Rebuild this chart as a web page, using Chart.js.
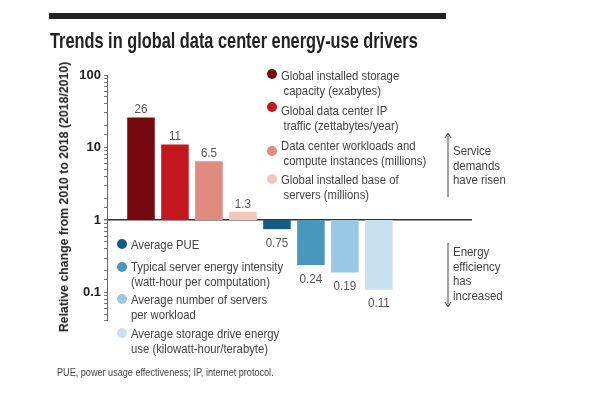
<!DOCTYPE html>
<html>
<head>
<meta charset="utf-8">
<script src="https://cdn.jsdelivr.net/npm/chart.js@4"></script>
<style>
  html, body { margin:0; padding:0; background:#fff; }
  #wrap { position:relative; width:600px; height:400px; overflow:hidden; font-family:"Liberation Sans",Arial,sans-serif; }
  #c { position:absolute; left:0; top:0; }
  .abs { position:absolute; white-space:nowrap; }
  .topbar { left:49px; top:13px; width:397px; height:6px; background:#222; }
  .title { left:50px; top:29px; font-size:21.5px; line-height:24px; font-weight:bold; color:#222; transform:scaleX(0.76); transform-origin:0 0; }
  .leg { font-size:13px; line-height:15px; color:#444; transform:scaleX(0.87); transform-origin:0 0; }
  .dot { position:absolute; border-radius:50%; }
  .note { font-size:13px; line-height:14.5px; color:#444; transform:scaleX(0.88); transform-origin:0 0; }
  .foot { left:57px; top:366px; font-size:10px; line-height:14px; color:#444; transform:scaleX(0.91); transform-origin:0 0; }
  .ytitle { font-size:13.5px; font-weight:bold; color:#222; line-height:16px; width:330px; text-align:center; left:-101px; top:189px; transform:rotate(-90deg) scaleX(0.91); transform-origin:50% 50%; }
</style>
</head>
<body>
<div id="wrap">
  <canvas id="c" width="600" height="400"></canvas>
  <div class="abs topbar"></div>
  <div class="abs title" id="title"></div>
  <div class="abs ytitle" id="ytitle"></div>
  <div id="legends"></div>
  <div class="abs note" style="left:453px; top:144px;">Service<br>demands<br>have risen</div>
  <div class="abs note" style="left:453px; top:245px;">Energy<br>efficiency<br>has<br>increased</div>
  <svg class="abs" style="left:0;top:0;" width="600" height="400">
    <g stroke="#444" stroke-width="1" fill="none">
      <line x1="448" y1="134" x2="448" y2="197"/>
      <polyline points="445,138 448,133 451,138"/>
      <line x1="448" y1="243" x2="448" y2="306"/>
      <polyline points="445,302 448,307 451,302"/>
    </g>
  </svg>
  <div class="abs foot" id="foot"></div>
</div>
<script>
// ---- data ----
const chartTitle = 'Trends in global data center energy-use drivers';
const yAxisTitle = 'Relative change from 2010 to 2018 (2018/2010)';
const footnote = 'PUE, power usage effectiveness; IP, internet protocol.';
const categories = [
  'Global installed storage\ncapacity (exabytes)',
  'Global data center IP\ntraffic (zettabytes/year)',
  'Data center workloads and\ncompute instances (millions)',
  'Global installed base of\nservers (millions)',
  'Average PUE',
  'Typical server energy intensity\n(watt-hour per computation)',
  'Average number of servers\nper workload',
  'Average storage drive energy\nuse (kilowatt-hour/terabyte)'
];
const values = [26, 11, 6.5, 1.3, 0.75, 0.24, 0.19, 0.11];
const valueLabels = ['26', '11', '6.5', '1.3', '0.75', '0.24', '0.19', '0.11'];
const colors = ['#780810', '#c4161f', '#e08a80', '#f2c6b8', '#135b80', '#4a97be', '#98c8e4', '#c8e1f1'];
const yTickLabels = [0.1, 1, 10, 100];
const baseValue = 1;

// ---- layout of HTML legend (positions only) ----
const legendPos = [
  {dx:272, dy:74, tx:281, ty:68, d:10},
  {dx:272, dy:107, tx:281, ty:103, d:10},
  {dx:272, dy:151, tx:281, ty:138, d:10},
  {dx:272, dy:179, tx:281, ty:172, d:10},
  {dx:122, dy:244, tx:131, ty:237, d:10},
  {dx:122, dy:267, tx:131, ty:259, d:10},
  {dx:122, dy:299, tx:131, ty:292, d:10},
  {dx:122, dy:333, tx:131, ty:326, d:10}
];
document.getElementById('title').textContent = chartTitle;
document.getElementById('ytitle').textContent = yAxisTitle;
document.getElementById('foot').textContent = footnote;
const L = document.getElementById('legends');
categories.forEach((c, i) => {
  const p = legendPos[i];
  const dot = document.createElement('div');
  dot.className = 'dot';
  dot.style.cssText = `left:${p.dx - p.d/2}px;top:${p.dy - p.d/2}px;width:${p.d}px;height:${p.d}px;background:${colors[i]};`;
  L.appendChild(dot);
  const t = document.createElement('div');
  t.className = 'abs leg';
  t.style.left = p.tx + 'px';
  t.style.top = p.ty + 'px';
  c.split('\n').forEach((line, j) => {
    const s = document.createElement('div');
    s.textContent = line;
    if (j > 0 && i < 4) s.style.marginLeft = '3px';
    t.appendChild(s);
  });
  L.appendChild(t);
});

// ---- value labels plugin ----
const valueLabelPlugin = {
  id: 'valueLabels',
  afterDatasetsDraw(chart) {
    const ctx = chart.ctx;
    const meta = chart.getDatasetMeta(0);
    meta.data.forEach((el, i) => {
      const up = values[i] >= baseValue;
      const top = Math.min(el.y, el.base), bottom = Math.max(el.y, el.base);
      const y = up ? top - 8 : bottom + 14;
      ctx.save();
      ctx.font = '13.5px "Liberation Sans",Arial,sans-serif';
      ctx.fillStyle = '#555';
      ctx.textAlign = 'center';
      ctx.textBaseline = 'middle';
      ctx.translate(el.x, y);
      ctx.scale(0.86, 1);
      ctx.fillText(valueLabels[i], 0, 0);
      ctx.restore();
    });
  }
};

new Chart(document.getElementById('c'), {
  type: 'bar',
  data: {
    datasets: [{
      data: values.map((v, i) => ({x: i, y: [baseValue, v]})),
      backgroundColor: colors,
      borderWidth: 0,
      barPercentage: 0.81,
      categoryPercentage: 1
    }]
  },
  options: {
    responsive: false,
    animation: false,
    layout: { padding: { left: 56, top: 75, right: 128, bottom: 80 } },
    plugins: { legend: { display: false }, tooltip: { enabled: false }, title: { display: false } },
    scales: {
      x: { type: 'linear', min: -1.0, max: 9.74, offset: false, display: false },
      y: {
        type: 'logarithmic',
        min: 0.042,
        max: 100,
        afterFit(s) { s.width = 51; },
        border: { display: true, color: '#666', width: 1 },
        grid: {
          drawOnChartArea: true,
          drawTicks: true,
          tickLength: 3,
          tickColor: '#777',
          color: (ctx) => (ctx.tick && ctx.tick.value === baseValue) ? '#333' : 'rgba(0,0,0,0)',
          lineWidth: (ctx) => (ctx.tick && ctx.tick.value === baseValue) ? 1.5 : 1
        },
        ticks: {
          autoSkip: false,
          padding: 3,
          color: '#222',
          font: { family: '"Liberation Sans",Arial,sans-serif', size: 13, weight: 'bold' },
          callback: (v) => yTickLabels.includes(Number(v)) ? String(v) : ''
        },
        title: { display: false }
      }
    }
  },
  plugins: [valueLabelPlugin]
});
</script>
</body>
</html>
